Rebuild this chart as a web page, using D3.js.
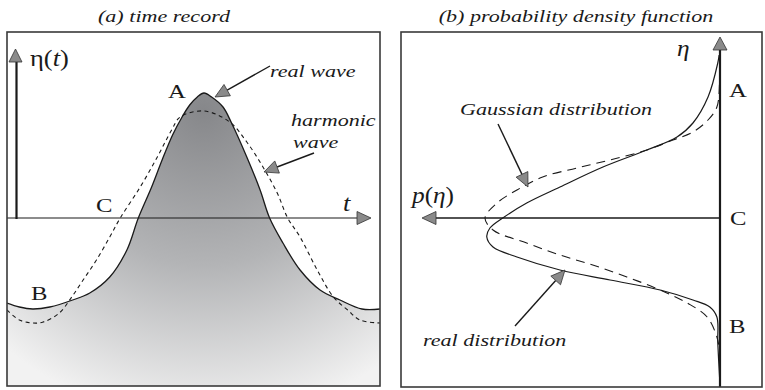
<!DOCTYPE html>
<html>
<head>
<meta charset="utf-8">
<script src="https://cdn.jsdelivr.net/npm/d3@7"></script>
<style>
  body { margin: 0; background: #fff; }
  svg { display: block; }
  text { font-family: "Liberation Serif", "Times New Roman", serif; fill: #1a1a1a; }
</style>
</head>
<body>
<svg id="chart" width="765" height="390"></svg>
<script>
// ---- (a) time record: phase (deg, crest at 0) and surface elevation ----
const realWavePhase = [-207, -194, -180, -162, -138, -120, -99, -81, -69, -55, -44, -33, -23, -15, -7, 0,
                       8, 20, 29, 45, 59, 69, 83, 101, 122, 143, 166, 185];
const realWaveElev  = [-0.85, -0.89, -0.91, -0.89, -0.82, -0.75, -0.59, -0.32, 0, 0.31, 0.58, 0.83, 1.01, 1.13, 1.21, 1.25,
                       1.21, 1.11, 0.95, 0.61, 0.28, 0, -0.25, -0.52, -0.72, -0.82, -0.91, -0.91];
const harmonicPhase = [-207, -194, -180, -169, -152, -139, -127, -113, -99, -88, -67, -49, -34, -25, 0,
                       27, 45, 62, 77, 88, 101, 119, 136, 151, 164, 185];
const harmonicElev  = [-0.92, -1.02, -1.05, -1.04, -0.95, -0.79, -0.62, -0.42, -0.19, 0, 0.31, 0.61, 0.88, 1.01, 1.07,
                       0.96, 0.76, 0.51, 0.25, 0, -0.19, -0.52, -0.79, -0.92, -1.02, -1.05];

// ---- (b) probability density: elevation and density ----
const realPdfElev    = [1.63, 1.55, 1.21, 0.95, 0.81, 0.68, 0.51, 0.31, 0.15, 0, -0.10, -0.19, -0.29, -0.39,
                        -0.52, -0.62, -0.72, -0.82, -0.89, -0.99, -1.25, -1.67];
const realPdfDensity = [0.002, 0.005, 0.027, 0.061, 0.097, 0.165, 0.264, 0.361, 0.436, 0.490, 0.519, 0.526, 0.512, 0.458,
                        0.361, 0.248, 0.135, 0.061, 0.023, 0.007, 0.005, 0];
const gaussPdfElev    = [1.48, 1.35, 1.11, 0.98, 0.86, 0.78, 0.68, 0.58, 0.50, 0.41, 0.28, 0.15, 0, -0.12, -0.25,
                         -0.37, -0.47, -0.59, -0.72, -0.85, -0.99, -1.19, -1.35];
const gaussPdfDensity = [0, 0.001, 0.007, 0.027, 0.061, 0.106, 0.165, 0.248, 0.323, 0.400, 0.458, 0.503, 0.530, 0.512, 0.436,
                         0.361, 0.287, 0.210, 0.135, 0.074, 0.029, 0.007, 0];

const panelTitles = ["(a) time record", "(b) probability density function"];
const pointLabels = ["A", "B", "C"];
const annotations = ["real wave", "harmonic", "wave", "Gaussian distribution", "real distribution"];

const svg = d3.select("#chart");
const SX = 1.3;           // horizontal stretch applied to all lettering
const ink = "#1a1a1a";
const headFill = "#8a8a8a";

// panel frames
const L = { x0: 7, x1: 380, y0: 32, y1: 386 };
const R = { x0: 401, x1: 762, y0: 32, y1: 387 };

// scales
const xT = d3.scaleLinear().domain([-207, 185]).range([L.x0, L.x1]);
const yE = d3.scaleLinear().domain([-1.68, 1.86]).range([L.y1, L.y0]);
const xP = d3.scaleLinear().domain([0, 0.6]).range([720, 454]);

function label(x, y, str, size, opts = {}) {
  const t = svg.append("text")
    .attr("transform", `translate(${x},${y}) scale(${opts.sx || SX},1)`)
    .attr("font-size", size)
    .attr("font-style", opts.italic ? "italic" : "normal")
    .attr("text-anchor", opts.anchor || "start");
  if (opts.parts) {
    opts.parts.forEach(p => t.append("tspan").text(p.t)
      .attr("font-style", p.i ? "italic" : "normal")
      .attr("font-size", p.s || size));
  } else t.text(str);
  return t;
}

function arrowHead(tip, from, len, halfW) {
  const dx = tip[0] - from[0], dy = tip[1] - from[1];
  const d = Math.hypot(dx, dy), ux = dx / d, uy = dy / d;
  const bx = tip[0] - ux * len, by = tip[1] - uy * len;
  const pts = [tip, [bx - uy * halfW, by + ux * halfW], [bx + uy * halfW, by - ux * halfW]];
  svg.append("path").attr("d", "M" + pts.join("L") + "Z")
    .attr("fill", headFill).attr("stroke", "#333").attr("stroke-width", 0.8)
    .attr("stroke-linejoin", "round");
  return [bx, by];
}

function arrow(from, tip, width = 1.4, len = 14, halfW = 6.5) {
  const dx = tip[0] - from[0], dy = tip[1] - from[1];
  const d = Math.hypot(dx, dy);
  const base = [tip[0] - dx / d * len, tip[1] - dy / d * len];
  svg.append("line").attr("x1", from[0]).attr("y1", from[1]).attr("x2", base[0]).attr("y2", base[1])
    .attr("stroke", ink).attr("stroke-width", width);
  arrowHead(tip, from, len, halfW);
}

// ---------- panel (a) ----------
const defs = svg.append("defs");
const grad = defs.append("radialGradient").attr("id", "waveFill")
  .attr("gradientUnits", "userSpaceOnUse")
  .attr("cx", xT(0)).attr("cy", 110).attr("r", 310);
grad.append("stop").attr("offset", 0).attr("stop-color", "#86878a");
grad.append("stop").attr("offset", 0.5).attr("stop-color", "#b3b4b6");
grad.append("stop").attr("offset", 1).attr("stop-color", "#f2f2f2");
defs.append("clipPath").attr("id", "clipL").append("rect")
  .attr("x", L.x0).attr("y", L.y0).attr("width", L.x1 - L.x0).attr("height", L.y1 - L.y0);

const realWave = realWavePhase.map((t, i) => [t, realWaveElev[i]]);
const harmonic = harmonicPhase.map((t, i) => [t, harmonicElev[i]]);
const smooth = d3.curveCatmullRom.alpha(0.5);

const gL = svg.append("g").attr("clip-path", "url(#clipL)");
gL.append("path").datum(realWave)
  .attr("d", d3.area().x(d => xT(d[0])).y0(L.y1).y1(d => yE(d[1])).curve(smooth))
  .attr("fill", "url(#waveFill)");
gL.append("path").datum(realWave)
  .attr("d", d3.line().x(d => xT(d[0])).y(d => yE(d[1])).curve(smooth))
  .attr("fill", "none").attr("stroke", ink).attr("stroke-width", 1.3);
gL.append("path").datum(harmonic)
  .attr("d", d3.line().x(d => xT(d[0])).y(d => yE(d[1])).curve(smooth))
  .attr("fill", "none").attr("stroke", ink).attr("stroke-width", 1.1)
  .attr("stroke-dasharray", "4,3.5");

// axes of panel (a)
svg.append("line").attr("x1", L.x0).attr("x2", 357).attr("y1", yE(0)).attr("y2", yE(0))
  .attr("stroke", ink).attr("stroke-width", 1.2);
arrowHead([371, yE(0)], [300, yE(0)], 14, 6.5);
svg.append("line").attr("x1", 16.5).attr("x2", 16.5).attr("y1", yE(0) + 1).attr("y2", 62)
  .attr("stroke", ink).attr("stroke-width", 2.2);
arrowHead([15.5, 49], [15.5, 120], 13, 6.5);

svg.append("rect").attr("x", L.x0).attr("y", L.y0).attr("width", L.x1 - L.x0).attr("height", L.y1 - L.y0)
  .attr("fill", "none").attr("stroke", "#3a3a3a").attr("stroke-width", 1.6);

// ---------- panel (b) ----------
const realPdf = realPdfElev.map((e, i) => [realPdfDensity[i], e]);
const gaussPdf = gaussPdfElev.map((e, i) => [gaussPdfDensity[i], e]);
svg.append("path").datum(gaussPdf)
  .attr("d", d3.line().x(d => xP(d[0])).y(d => yE(d[1])).curve(smooth))
  .attr("fill", "none").attr("stroke", ink).attr("stroke-width", 1.1)
  .attr("stroke-dasharray", "9,6");
svg.append("path").datum(realPdf)
  .attr("d", d3.line().x(d => xP(d[0])).y(d => yE(d[1])).curve(smooth))
  .attr("fill", "none").attr("stroke", ink).attr("stroke-width", 1.2);

svg.append("line").attr("x1", xP(0)).attr("x2", 435).attr("y1", yE(0)).attr("y2", yE(0))
  .attr("stroke", ink).attr("stroke-width", 1.6);
arrowHead([422, yE(0)], [600, yE(0)], 14, 6.5);
svg.append("line").attr("x1", xP(0)).attr("x2", xP(0)).attr("y1", R.y1).attr("y2", 50)
  .attr("stroke", ink).attr("stroke-width", 2.2);
arrowHead([xP(0), 37], [xP(0), 200], 13, 7);

svg.append("rect").attr("x", R.x0).attr("y", R.y0).attr("width", R.x1 - R.x0).attr("height", R.y1 - R.y0)
  .attr("fill", "none").attr("stroke", "#3a3a3a").attr("stroke-width", 1.6);

// ---------- lettering ----------
label(164, 22, panelTitles[0], 17, { italic: true, anchor: "middle" });
label(576, 22, panelTitles[1], 17, { italic: true, anchor: "middle" });

label(168, 98, pointLabels[0], 19);
label(31, 300, pointLabels[1], 19);
label(96, 212, pointLabels[2], 19);
label(729, 97, pointLabels[0], 19);
label(729, 333, pointLabels[1], 19);
label(730, 225, pointLabels[2], 19);

label(30, 66, null, 23, { sx: 1.15, parts: [{ t: "η" }, { t: "(" }, { t: "t", i: true }, { t: ")" }] });
label(343, 211, "t", 23, { italic: true, sx: 1.15 });
label(677, 56, "η", 23, { italic: true, sx: 1.1 });
label(412, 203, null, 23, { sx: 1.1, parts: [{ t: "p", i: true }, { t: "(" }, { t: "η", i: true }, { t: ")" }] });

label(270, 77, annotations[0], 17, { italic: true });
label(291, 126, annotations[1], 17, { italic: true });
label(293, 148, annotations[2], 17, { italic: true });
label(460, 115, annotations[3], 17, { italic: true });
label(423, 346, annotations[4], 17, { italic: true });

// pointer arrows
arrow([270, 66], [215, 97]);
arrow([314, 153], [264, 172]);
arrow([498, 124], [528, 187]);
arrow([515, 326], [565, 270]);
</script>
</body>
</html>
